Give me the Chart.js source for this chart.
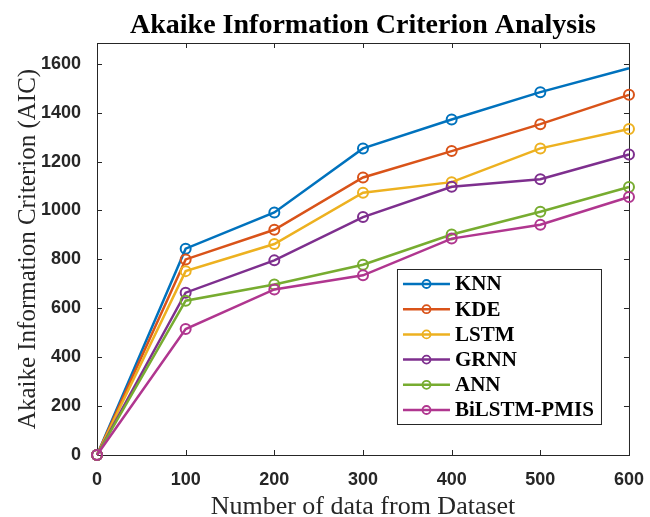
<!DOCTYPE html>
<html>
<head>
<meta charset="utf-8">
<script src="https://cdn.jsdelivr.net/npm/chart.js@4.4.1/dist/chart.umd.min.js"></script>
<style>
	html, body { margin: 0; padding: 0; background: #fff; }
	#wrap { width: 650px; height: 517px; }
</style>
</head>
<body>
<div id="wrap"><canvas id="aic"></canvas></div>
<script>
(() => {
	'use strict'

	// Data size on the x axis and AIC per method
	const sizes = [0, 100, 200, 300, 400, 500, 600];
	const knn = [0, 844, 992, 1254, 1372, 1484, 1582];
	const kde = [0, 800, 921, 1135, 1243, 1353, 1473];
	const lstm = [0, 752, 863, 1073, 1116, 1254, 1333];
	const grnn = [0, 664, 796, 973, 1097, 1128, 1229];
	const ann = [0, 631, 697, 778, 902, 995, 1096];
	const bilstm = [0, 515, 677, 735, 885, 942, 1055];

	const methods = ['KNN', 'KDE', 'LSTM', 'GRNN', 'ANN', 'BiLSTM-PMIS'];
	const seriesValues = [knn, kde, lstm, grnn, ann, bilstm];
	const colors = ['#0072BD', '#D95319', '#EDB120', '#7E2F8E', '#77AC30', '#B0368F'];

	const xTicks = [0, 100, 200, 300, 400, 500, 600];
	const yTicks = [0, 200, 400, 600, 800, 1000, 1200, 1400, 1600];

	const titleText = 'Akaike Information Criterion Analysis';
	const axisColor = '#262626';
	const serif = '"Liberation Serif", "Times New Roman", serif';
	const sans = '"Liberation Sans", Arial, sans-serif';

	// Box round the axes with inward ticks on all four sides, title above
	const framePlugin = {
		id: 'frame',
		beforeDatasetsDraw(chart) {
			const { ctx, chartArea: a, scales } = chart;
			const len = 5;
			ctx.save();
			ctx.strokeStyle = axisColor;
			ctx.lineWidth = 1;
			ctx.strokeRect(a.left + 0.5, a.top + 0.5, a.right - a.left, a.bottom - a.top);
			ctx.beginPath();
			xTicks.forEach(v => {
				const px = Math.round(scales.x.getPixelForValue(v)) + 0.5;
				ctx.moveTo(px, a.bottom); ctx.lineTo(px, a.bottom - len);
				ctx.moveTo(px, a.top); ctx.lineTo(px, a.top + len);
			});
			yTicks.forEach(v => {
				const py = Math.round(scales.y.getPixelForValue(v)) + 0.5;
				ctx.moveTo(a.left, py); ctx.lineTo(a.left + len, py);
				ctx.moveTo(a.right, py); ctx.lineTo(a.right - len, py);
			});
			ctx.stroke();

			ctx.fillStyle = '#000';
			ctx.font = 'bold 28px ' + serif;
			ctx.textAlign = 'center';
			ctx.textBaseline = 'alphabetic';
			ctx.fillText(titleText, (a.left + a.right) / 2, 33);
			ctx.restore();
		}
	};

	// Legend box inside the lower right of the axes
	const legendPlugin = {
		id: 'boxLegend',
		afterDraw(chart) {
			const { ctx, chartArea: a } = chart;
			const left = a.right - 232;
			const top = a.top + 226;
			const w = 204, h = 155, row = 25.2;
			ctx.save();
			ctx.fillStyle = '#fff';
			ctx.fillRect(left, top, w, h);
			ctx.strokeStyle = axisColor;
			ctx.lineWidth = 1;
			ctx.strokeRect(left + 0.5, top + 0.5, w, h);
			ctx.font = 'bold 21px ' + serif;
			ctx.textBaseline = 'middle';
			chart.data.datasets.forEach((ds, i) => {
				const y = top + 15 + i * row;
				ctx.strokeStyle = ds.borderColor;
				ctx.lineWidth = 2.5;
				ctx.beginPath();
				ctx.moveTo(left + 6, y); ctx.lineTo(left + 53, y);
				ctx.stroke();
				ctx.lineWidth = 1.8;
				ctx.beginPath();
				ctx.arc(left + 29.5, y, 4, 0, Math.PI * 2);
				ctx.stroke();
				ctx.fillStyle = '#000';
				ctx.fillText(ds.label, left + 58, y + 1);
			});
			ctx.restore();
		}
	};

	const datasets = methods.map((name, i) => ({
		label: name,
		data: sizes.map((s, j) => ({ x: s, y: seriesValues[i][j] })),
		borderColor: colors[i],
		backgroundColor: 'transparent',
		pointBackgroundColor: 'transparent',
		pointBorderColor: colors[i],
		borderWidth: 2.5,
		pointBorderWidth: 2,
		pointRadius: name === 'KNN' ? [5, 5, 5, 5, 5, 5, 0] : 5,
		tension: 0,
		clip: false,
		order: methods.length - 1 - i
	}));

	const configAic = {
		type: 'line',
		data: { datasets },
		plugins: [framePlugin, legendPlugin],
		options: {
			responsive: true,
			maintainAspectRatio: false,
			animation: false,
			layout: { padding: { left: 0, right: 17, top: 43, bottom: 0 } },
			plugins: {
				legend: { display: false },
				tooltip: { enabled: false },
				title: { display: false }
			},
			scales: {
				x: {
					type: 'linear',
					min: 0,
					max: 600,
					afterBuildTicks: s => { s.ticks = xTicks.map(v => ({ value: v })); },
					afterFit: s => { s.height = 62; },
					grid: { display: false },
					border: { display: false },
					ticks: {
						color: axisColor,
						padding: 6,
						callback: v => String(v),
						font: { family: sans, size: 18, weight: 'bold' }
					},
					title: {
						display: true,
						text: 'Number of data from Dataset',
						color: '#262626',
						padding: { top: 0, bottom: -4 },
						font: { family: serif, size: 26, lineHeight: 1.1 }
					}
				},
				y: {
					type: 'linear',
					min: 0,
					max: 1685,
					afterBuildTicks: s => { s.ticks = yTicks.map(v => ({ value: v })); },
					afterFit: s => { s.width = 97; },
					grid: { display: false },
					border: { display: false },
					ticks: {
						color: axisColor,
						padding: 8,
						callback: v => String(v),
						font: { family: sans, size: 18, weight: 'bold' }
					},
					title: {
						display: true,
						text: 'Akaike Information Criterion (AIC)',
						color: '#262626',
						padding: { top: 13, bottom: 0 },
						font: { family: serif, size: 25 }
					}
				}
			}
		}
	};

	new Chart(document.getElementById('aic'), configAic);
})()
</script>
</body>
</html>
